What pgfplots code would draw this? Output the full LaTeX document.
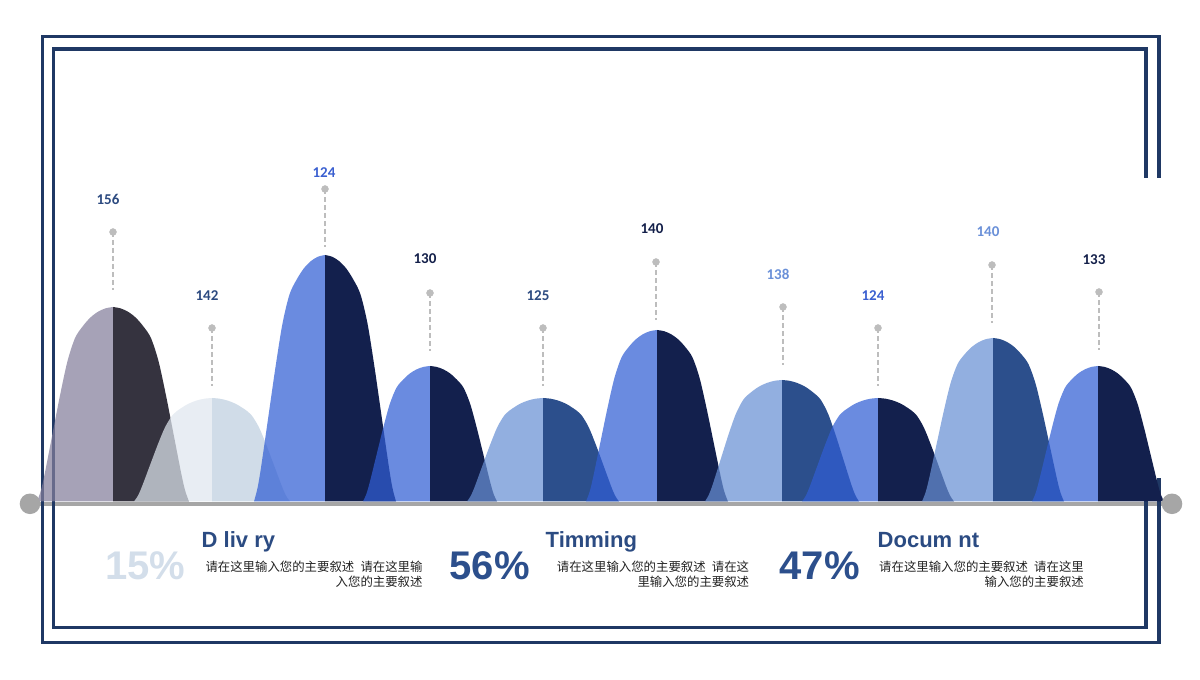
\documentclass[border=0pt]{standalone}
\usepackage{pgfplots}
\pgfplotsset{compat=1.18}
\usepackage{pgfplotstable}
\usepackage{fontspec}
\setmainfont{Liberation Sans}
\newfontfamily\calfont{Carlito}
\newfontfamily\cjk{Noto Sans CJK SC}

\definecolor{framec}{HTML}{1F3864}
\definecolor{basegray}{HTML}{A6A6A6}
\definecolor{leadgray}{HTML}{BDBDBD}
% left halves (base colours, drawn at 0.72 opacity)
\definecolor{Lgray}{RGB}{131,126,155}
\definecolor{Lpale}{RGB}{223,230,238}
\definecolor{Lblue}{RGB}{49,94,212}
\definecolor{Lsky}{RGB}{104,144,212}
% right halves (opaque)
\definecolor{Rdark}{HTML}{35333F}
\definecolor{Rpale}{HTML}{D0DCE8}
\definecolor{Rnavy}{HTML}{13204D}
\definecolor{Rmid}{HTML}{2C4F8C}
% label colours
\definecolor{tA}{HTML}{2C4A80}
\definecolor{tB}{HTML}{3A5FD0}
\definecolor{tC}{HTML}{14204A}
\definecolor{tD}{HTML}{6A90D8}
\definecolor{pctLight}{HTML}{D3DEEA}
\definecolor{pctDark}{HTML}{2C4F8C}
\definecolor{titlec}{HTML}{2B4B82}
\definecolor{cjkc}{HTML}{222222}

% normalised bell profile: u = fraction of half width, v = fraction of height
\pgfplotstableread{
u v
0 1
0.1 0.993
0.2 0.975
0.3 0.945
0.4 0.9
0.5 0.84
0.6 0.72
0.7 0.54
0.8 0.34
0.9 0.14
0.95 0.055
1 0
}\profile

% #1 centre, #2 half width, #3 height, #4 left colour, #5 right colour
\newcommand{\peak}[5]{%
\addplot[draw=none, fill=#4, fill opacity=0.72, smooth] table[x expr={#1-#2*\thisrow{u}}, y expr={#3*\thisrow{v}}] {\profile} \closedcycle;
\addplot[draw=none, fill=#5, smooth] table[x expr={#1+#2*\thisrow{u}}, y expr={#3*\thisrow{v}}] {\profile} \closedcycle;
}
% #1 x, #2 y of dot
\newcommand{\leader}[2]{%
\addplot[color=leadgray, line width=1.8pt, dash pattern=on 5pt off 3pt] coordinates {(#1,#2) (#1,#2-58)};
}

\begin{document}
\begin{tikzpicture}
\begin{axis}[width=1200pt, height=680pt, scale only axis,
  xmin=0, xmax=1200, ymin=-178.5, ymax=501.5,
  hide axis, clip=false]

% baseline with end circles
\addplot[color=basegray, line width=4.5pt, mark=*, mark size=8pt, mark options={solid, fill=basegray}] coordinates {(30,-2.3) (1172,-2.3)};

% frame
\draw[framec, line width=3.5pt, line join=miter] (axis cs:1159,323.5) -- (axis cs:1159,464.8) -- (axis cs:42.5,464.8) -- (axis cs:42.5,-141) -- (axis cs:1159,-141) -- (axis cs:1159,23.5);
\draw[framec, line width=3.5pt, line join=miter] (axis cs:1146,323.5) -- (axis cs:1146,452.5) -- (axis cs:53.5,452.5) -- (axis cs:53.5,-126) -- (axis cs:1146,-126) -- (axis cs:1146,23.5);

% peaks
\peak{113}{76}{194.5}{Lgray}{Rdark}
\peak{212}{78}{103.5}{Lpale}{Rpale}
\peak{325}{71}{246.5}{Lblue}{Rnavy}
\peak{430}{67}{135.5}{Lblue}{Rnavy}
\peak{543}{76}{103.5}{Lsky}{Rmid}
\peak{657}{71}{171.5}{Lblue}{Rnavy}
\peak{782}{77}{121.5}{Lsky}{Rmid}
\peak{878}{76}{103.5}{Lblue}{Rnavy}
\peak{993}{71}{163.5}{Lsky}{Rmid}
\peak{1098}{66}{135.5}{Lblue}{Rnavy}

% leader lines and dots
\leader{113}{269.5}
\leader{212}{173.5}
\leader{325}{312.5}
\leader{430}{208.5}
\leader{543}{173.5}
\leader{656}{239.5}
\leader{783}{194.5}
\leader{878}{173.5}
\leader{992}{236.5}
\leader{1099}{209.5}
\addplot[only marks, mark=*, mark size=3.5pt, color=leadgray] coordinates {
(113,269.5) (212,173.5) (325,312.5) (430,208.5) (543,173.5)
(656,239.5) (783,194.5) (878,173.5) (992,236.5) (1099,209.5)};

% value labels
\begin{scope}[every node/.style={font=\calfont\bfseries\fontsize{15}{15}\selectfont, inner sep=0pt}]
\node[text=tA] at (axis cs:108,302.5) {156};
\node[text=tA] at (axis cs:207,205.5) {142};
\node[text=tB] at (axis cs:324,329) {124};
\node[text=tC] at (axis cs:425,242.5) {130};
\node[text=tA] at (axis cs:538,205.5) {125};
\node[text=tC] at (axis cs:652,272.5) {140};
\node[text=tD] at (axis cs:778,227.5) {138};
\node[text=tB] at (axis cs:873,205.5) {124};
\node[text=tD] at (axis cs:988,269.5) {140};
\node[text=tC] at (axis cs:1094,242) {133};
\end{scope}

% bottom texts
\begin{scope}[every node/.style={inner sep=0pt}]
\node[anchor=base west, text=pctLight, font=\bfseries\fontsize{40}{40}\selectfont] at (axis cs:105,-78.5) {15\%};
\node[anchor=base west, text=pctDark, font=\bfseries\fontsize{40}{40}\selectfont] at (axis cs:449.5,-78.5) {56\%};
\node[anchor=base west, text=pctDark, font=\bfseries\fontsize{40}{40}\selectfont] at (axis cs:779.5,-78.5) {47\%};

\node[anchor=base west, text=titlec, font=\bfseries\fontsize{22}{22}\selectfont] at (axis cs:201.5,-46.5) {D liv ry};
\node[anchor=base west, text=titlec, font=\bfseries\fontsize{22}{22}\selectfont] at (axis cs:545.5,-46.5) {Timming};
\node[anchor=base west, text=titlec, font=\bfseries\fontsize{22}{22}\selectfont] at (axis cs:877.5,-46.5) {Docum nt};

\node[anchor=east, text=cjkc, font=\cjk\fontsize{12.4}{14}\selectfont] at (axis cs:422.7,-65) {请在这里输入您的主要叙述\hspace{0.5em}请在这里输};
\node[anchor=east, text=cjkc, font=\cjk\fontsize{12.4}{14}\selectfont] at (axis cs:422.7,-80) {入您的主要叙述};
\node[anchor=east, text=cjkc, font=\cjk\fontsize{12.4}{14}\selectfont] at (axis cs:749.3,-65) {请在这里输入您的主要叙述\hspace{0.5em}请在这};
\node[anchor=east, text=cjkc, font=\cjk\fontsize{12.4}{14}\selectfont] at (axis cs:749.3,-80) {里输入您的主要叙述};
\node[anchor=east, text=cjkc, font=\cjk\fontsize{12.4}{14}\selectfont] at (axis cs:1084,-65) {请在这里输入您的主要叙述\hspace{0.5em}请在这里};
\node[anchor=east, text=cjkc, font=\cjk\fontsize{12.4}{14}\selectfont] at (axis cs:1084,-80) {输入您的主要叙述};
\end{scope}
\end{axis}
\pgfresetboundingbox
\path[use as bounding box] (current axis.south west) rectangle (current axis.north east);
\end{tikzpicture}
\end{document}
